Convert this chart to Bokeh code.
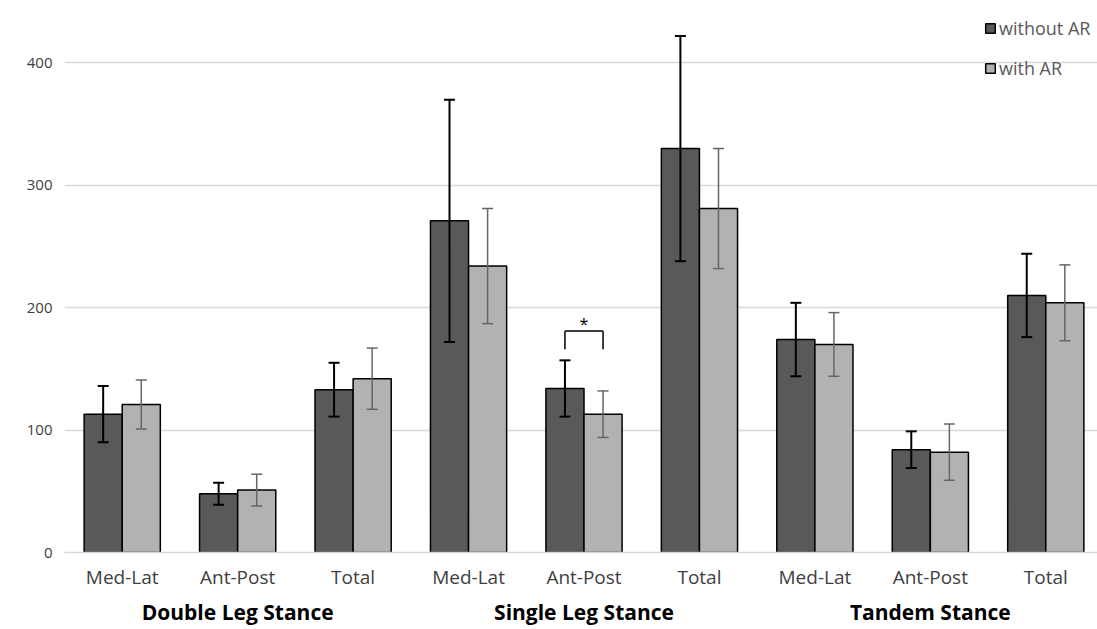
from bokeh.plotting import figure
from bokeh.models import (ColumnDataSource, FactorRange, Range1d, Whisker, TeeHead,
                          FixedTicker, Legend, LegendItem)
from bokeh.transform import dodge
from bokeh.core.properties import value
from bokeh.embed import file_html
from bokeh.resources import INLINE

groups = ["Double Leg Stance", "Single Leg Stance", "Tandem Stance"]
subs = ["Med-Lat", "Ant-Post", "Total"]
series = ["without AR", "with AR"]

mean_without = [113, 48, 133, 271, 134, 330, 174, 84, 210]
sd_without = [23, 9, 22, 99, 23, 92, 30, 15, 34]
mean_with = [121, 51, 142, 234, 113, 281, 170, 82, 204]
sd_with = [20, 13, 25, 47, 19, 49, 26, 23, 31]

y_ticks = [0, 100, 200, 300, 400]
sig_pair = ("Single Leg Stance", "Ant-Post")

FONT = "Open Sans"
DARK = "#595959"
LIGHT = "#b2b2b2"
GREY_TXT = "#595959"

factors = [(g, s) for g in groups for s in subs]

src = ColumnDataSource(dict(
    x=factors,
    m0=mean_without, up0=[m + s for m, s in zip(mean_without, sd_without)],
    lo0=[m - s for m, s in zip(mean_without, sd_without)],
    m1=mean_with, up1=[m + s for m, s in zip(mean_with, sd_with)],
    lo1=[m - s for m, s in zip(mean_with, sd_with)],
))

p = figure(x_range=FactorRange(*factors, group_padding=0, factor_padding=0, range_padding=0),
           y_range=Range1d(0, 451), width=1103, height=628,
           output_backend="svg", toolbar_location=None,
           min_border_left=64, min_border_right=0, min_border_top=0, min_border_bottom=70)
p.outline_line_color = None
p.background_fill_color = "white"

OFF = 0.165
BW = 0.33
r0 = p.vbar(x=dodge("x", -OFF, range=p.x_range), top="m0", width=BW, source=src,
            fill_color=DARK, line_color="black", line_width=1.5)
r1 = p.vbar(x=dodge("x", OFF, range=p.x_range), top="m1", width=BW, source=src,
            fill_color=LIGHT, line_color="black", line_width=1.5)

w0 = Whisker(base=dodge("x", -OFF, range=p.x_range), upper="up0", lower="lo0", source=src,
             line_color="black", line_width=2, level="overlay",
             upper_head=TeeHead(size=11, line_color="black", line_width=2),
             lower_head=TeeHead(size=11, line_color="black", line_width=2))
w1 = Whisker(base=dodge("x", OFF, range=p.x_range), upper="up1", lower="lo1", source=src,
             line_color="#666666", line_width=1.5, level="overlay",
             upper_head=TeeHead(size=11, line_color="#666666", line_width=1.5),
             lower_head=TeeHead(size=11, line_color="#666666", line_width=1.5))
p.add_layout(w0)
p.add_layout(w1)

# significance bracket
i = factors.index(sig_pair)
top = max(mean_without[i] + sd_without[i], mean_with[i] + sd_with[i]) + 24
bsrc = ColumnDataSource(dict(x=[sig_pair], top=[top], leg=[top - 15], star=[top + 6]))
p.segment(x0=dodge("x", -OFF, range=p.x_range), x1=dodge("x", OFF, range=p.x_range),
          y0="top", y1="top", source=bsrc, line_color="black", line_width=1.5)
p.segment(x0=dodge("x", -OFF, range=p.x_range), x1=dodge("x", -OFF, range=p.x_range),
          y0="top", y1="leg", source=bsrc, line_color="black", line_width=1.5)
p.segment(x0=dodge("x", OFF, range=p.x_range), x1=dodge("x", OFF, range=p.x_range),
          y0="top", y1="leg", source=bsrc, line_color="black", line_width=1.5)
p.text(x="x", y="star", text=value("*"), source=bsrc, text_align="center",
       text_baseline="alphabetic", text_font=value(FONT), text_font_size="16px",
       text_color="black")

# axes
p.yaxis.ticker = FixedTicker(ticks=y_ticks)
p.yaxis.axis_line_color = None
p.yaxis.major_tick_line_color = None
p.yaxis.minor_tick_line_color = None
p.yaxis.major_label_standoff = 6
p.yaxis.major_label_text_font = FONT
p.yaxis.major_label_text_font_size = "15px"
p.yaxis.major_label_text_color = "#404040"

p.xaxis.axis_line_color = "#d9d9d9"
p.xaxis.axis_line_width = 1.5
p.xaxis.major_tick_line_color = None
p.xaxis.minor_tick_line_color = None
p.xaxis.major_label_standoff = 5
p.xaxis.major_label_text_font = FONT
p.xaxis.major_label_text_font_size = "19px"
p.xaxis.major_label_text_color = "#404040"
p.xaxis.group_text_font = FONT
p.xaxis.group_text_font_size = "21px"
p.xaxis.group_text_font_style = "bold"
p.xaxis.group_text_color = "black"
p.xaxis.separator_line_color = None

p.xgrid.grid_line_color = None
p.ygrid.grid_line_color = "#d9d9d9"
p.ygrid.grid_line_width = 1.5

legend = Legend(items=[LegendItem(label=series[0], renderers=[r0]),
                       LegendItem(label=series[1], renderers=[r1])],
                location=(920, 472), orientation="vertical",
                label_text_font=FONT, label_text_font_size="18px", label_text_color=GREY_TXT,
                glyph_width=12, glyph_height=12, label_standoff=3, spacing=16,
                padding=2, margin=0, border_line_color=None, background_fill_alpha=0)
p.add_layout(legend)

open("out.html", "w").write(file_html(p, INLINE))
